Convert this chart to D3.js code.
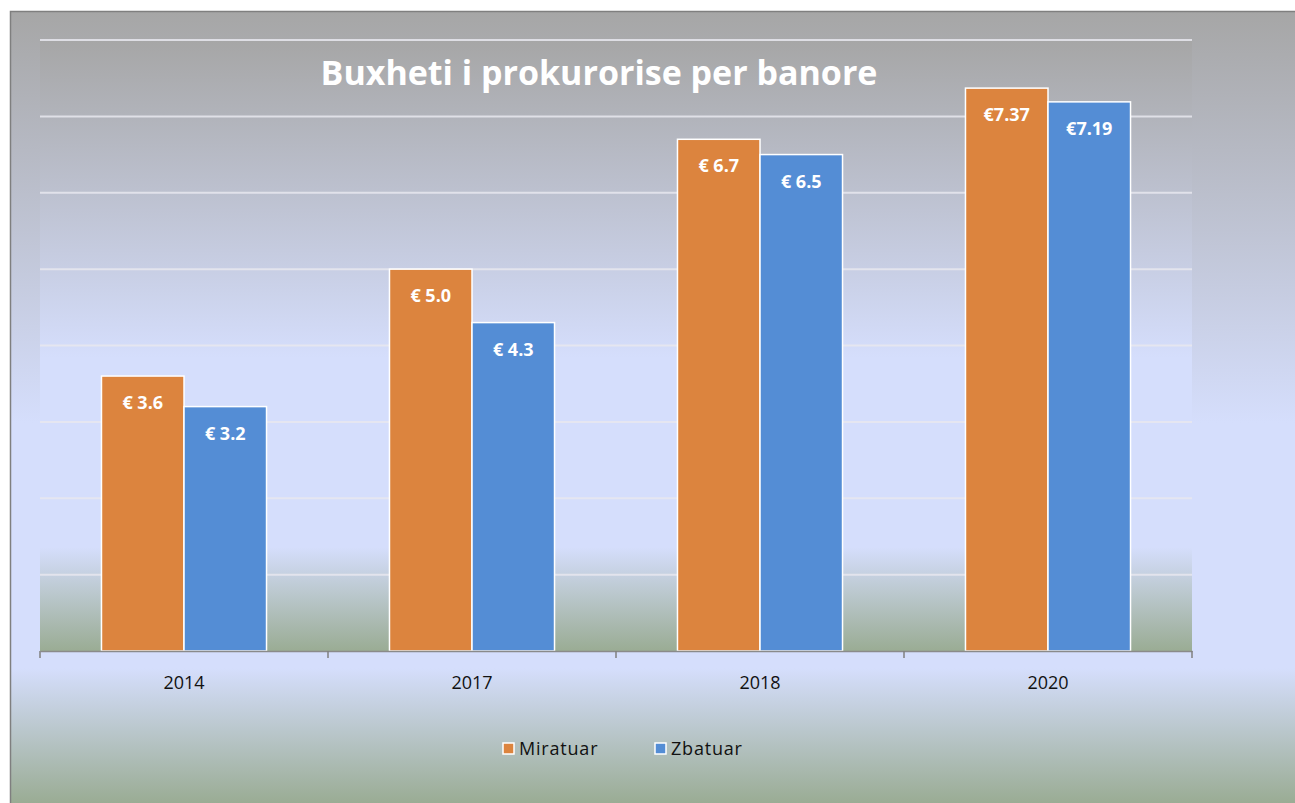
<!DOCTYPE html>
<html>
<head>
  <meta charset="utf-8">
  <title>Buxheti i prokurorise per banore</title>
  <script src="https://d3js.org/d3.v7.min.js"></script>
  <style>
    body { margin: 0; background: #fff; }
    text { font-family: "Open Sans", "DejaVu Sans", sans-serif; }
  </style>
</head>
<body>
  <script>
    var years = ['2014', '2017', '2018', '2020'];
    var miratuar = [3.6, 5.0, 6.7, 7.37];
    var zbatuar = [3.2, 4.3, 6.5, 7.19];
    var miratuarLabels = ['€ 3.6', '€ 5.0', '€ 6.7', '€7.37'];
    var zbatuarLabels = ['€ 3.2', '€ 4.3', '€ 6.5', '€7.19'];
    var seriesNames = ['Miratuar', 'Zbatuar'];
    var yTicks = [0, 1, 2, 3, 4, 5, 6, 7, 8];

    var colors = ['#dc843e', '#548dd5'];
    var width = 1295, height = 803;
    var plot = { left: 40, top: 40, right: 1192, bottom: 651 };

    var svg = d3.select('body').append('svg')
      .attr('width', width)
      .attr('height', height);

    var defs = svg.append('defs');
    var grad = defs.append('linearGradient')
      .attr('id', 'bg')
      .attr('x1', 0).attr('y1', 0).attr('x2', 0).attr('y2', 1);
    grad.append('stop').attr('offset', 0).attr('stop-color', '#a6a6a6');
    grad.append('stop').attr('offset', 0.52).attr('stop-color', '#d5defc');
    grad.append('stop').attr('offset', 0.83).attr('stop-color', '#d5defc');
    grad.append('stop').attr('offset', 1).attr('stop-color', '#9aac94');

    // chart area with frame on left and top
    svg.append('rect')
      .attr('x', 10).attr('y', 11)
      .attr('width', width - 10).attr('height', height - 11)
      .attr('fill', 'url(#bg)');
    svg.append('path')
      .attr('d', 'M10.5,' + height + 'V11.5H' + width)
      .attr('fill', 'none')
      .attr('stroke', '#7f7f7f')
      .attr('stroke-width', 1.5);

    // plot area
    svg.append('rect')
      .attr('x', plot.left).attr('y', plot.top)
      .attr('width', plot.right - plot.left)
      .attr('height', plot.bottom - plot.top)
      .attr('fill', 'url(#bg)');

    var x = d3.scaleBand()
      .domain(years)
      .range([plot.left, plot.right])
      .paddingInner(0)
      .paddingOuter(0);
    var x1 = d3.scaleBand()
      .domain(seriesNames)
      .range([0, x.bandwidth()])
      .paddingOuter(0.745)
      .paddingInner(0);
    var y = d3.scaleLinear()
      .domain([0, 8])
      .range([plot.bottom, plot.top]);

    // gridlines
    svg.append('g')
      .selectAll('line')
      .data(yTicks.slice(1))
      .join('line')
      .attr('x1', plot.left).attr('x2', plot.right)
      .attr('y1', function(d) { return y(d); })
      .attr('y2', function(d) { return y(d); })
      .attr('stroke', '#e8e8ee')
      .attr('stroke-opacity', 0.85)
      .attr('stroke-width', 2);

    var data = years.map(function(yr, i) {
      return [
        { year: yr, series: seriesNames[0], value: miratuar[i], label: miratuarLabels[i] },
        { year: yr, series: seriesNames[1], value: zbatuar[i], label: zbatuarLabels[i] }
      ];
    });

    var groups = svg.append('g')
      .selectAll('g')
      .data(data)
      .join('g')
      .attr('transform', function(d) { return 'translate(' + x(d[0].year) + ',0)'; });

    groups.selectAll('rect')
      .data(function(d) { return d; })
      .join('rect')
      .attr('x', function(d) { return x1(d.series); })
      .attr('y', function(d) { return y(d.value); })
      .attr('width', x1.bandwidth())
      .attr('height', function(d) { return plot.bottom - y(d.value); })
      .attr('fill', function(d, i) { return colors[i]; })
      .attr('stroke', '#ffffff')
      .attr('stroke-width', 1.5);

    groups.selectAll('text')
      .data(function(d) { return d; })
      .join('text')
      .attr('x', function(d) { return x1(d.series) + x1.bandwidth() / 2; })
      .attr('y', function(d) { return y(d.value) + 33; })
      .attr('text-anchor', 'middle')
      .attr('fill', '#ffffff')
      .style('font-size', '18px')
      .style('font-weight', 'bold')
      .text(function(d) { return d.label; });

    // x axis
    var xAxis = svg.append('g')
      .attr('transform', 'translate(0,' + plot.bottom + ')')
      .call(d3.axisBottom(x).tickSize(0).tickPadding(25));
    xAxis.select('.domain').attr('stroke', '#8a8a8a').attr('stroke-width', 1.5);
    xAxis.selectAll('text')
      .style('font-size', '18px')
      .attr('fill', '#111');
    svg.append('g')
      .selectAll('line')
      .data(years.concat(['end']))
      .join('line')
      .attr('x1', function(d, i) { return i < years.length ? x(d) : plot.right; })
      .attr('x2', function(d, i) { return i < years.length ? x(d) : plot.right; })
      .attr('y1', plot.bottom)
      .attr('y2', plot.bottom + 7)
      .attr('stroke', '#7f7f7f')
      .attr('stroke-width', 1.5);

    // title
    svg.append('text')
      .attr('x', 599)
      .attr('y', 85)
      .attr('text-anchor', 'middle')
      .attr('fill', '#ffffff')
      .style('font-size', '34px')
      .style('font-weight', 'bold')
      .text('Buxheti i prokurorise per banore');

    // legend
    var legendX = [503, 655];
    var legend = svg.append('g')
      .selectAll('g')
      .data(seriesNames)
      .join('g')
      .attr('transform', function(d, i) { return 'translate(' + legendX[i] + ',743)'; });
    legend.append('rect')
      .attr('width', 11).attr('height', 11)
      .attr('fill', function(d, i) { return colors[i]; })
      .attr('stroke', '#ffffff')
      .attr('stroke-width', 1.5);
    legend.append('text')
      .attr('x', 16)
      .attr('y', 12)
      .attr('fill', '#111')
      .style('font-size', '18px')
      .style('letter-spacing', '0.8px')
      .text(function(d) { return d; });
  </script>
</body>
</html>
